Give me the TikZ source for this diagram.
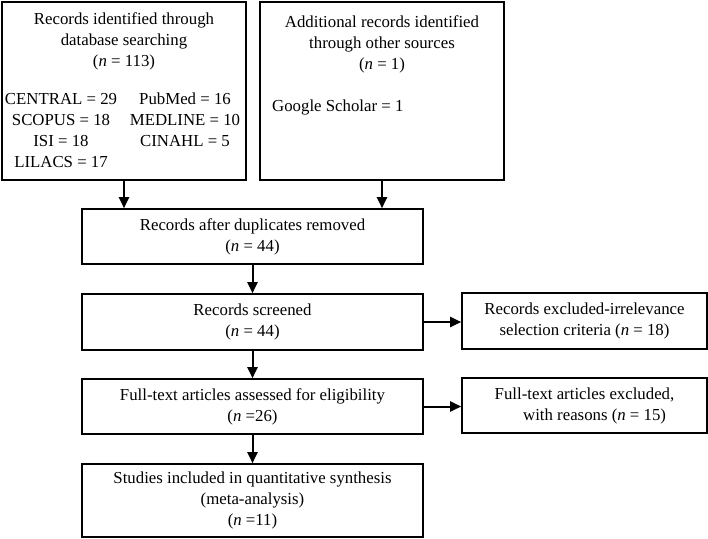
\documentclass[tikz,border=0pt]{standalone}
\usepackage{fontspec}
\setmainfont{Liberation Serif}
\usetikzlibrary{arrows.meta,positioning}

\begin{document}
\begin{tikzpicture}[
  x=1pt, y=-1pt,
  font=\fontsize{16.8}{21}\selectfont,
  box/.style={draw, line width=1.6pt, rectangle, inner sep=0pt, align=center},
  lbl/.style={inner sep=0pt, align=center},
  arr/.style={line width=2pt, -{Triangle[length=11pt, width=10pt]}}
]
\useasboundingbox (0,0) rectangle (708,538);
% ---------------- top: the two sources ------------------------------------
\node[box, minimum width=244pt, minimum height=178pt] (db) at (124,91) {};
\node[lbl] (dbtitle) at (124,41) {Records identified through\\database searching\\(\textit{n} = 113)};
\node[lbl, anchor=north] (dbleft) at (61,93) {CENTRAL = 29\\SCOPUS = 18\\ISI = 18\\LILACS = 17};
\node[lbl, anchor=north] (dbright) at (185,93) {PubMed = 16\\MEDLINE = 10\\CINAHL = 5};
\node[box, minimum width=244pt, minimum height=178pt] (other) at (382,91) {};
\node[lbl] (othertitle) at (382,44) {Additional records identified\\through other sources\\(\textit{n} = 1)};
\node[lbl, anchor=west] (gs) at (272,107) {Google Scholar = 1};
% ---------------- main column ---------------------------------------------
\node[box, minimum width=341pt, minimum height=55pt] (dup) at (252.5,236.5)
  {Records after duplicates removed\\(\textit{n} = 44)};
\node[box, minimum width=341pt, minimum height=56pt] (screen) at (252.5,322)
  {Records screened\\(\textit{n} = 44)};
\node[box, minimum width=341pt, minimum height=55pt] (full) at (252.5,406.5)
  {Full-text articles assessed for eligibility\\(\textit{n} =26)};
\node[box, minimum width=341pt, minimum height=73pt] (incl) at (252.5,500.5)
  {Studies included in quantitative synthesis\\(meta-analysis)\\(\textit{n} =11)};
% ---------------- right: exclusions ---------------------------------------
\node[box, minimum width=245pt, minimum height=56pt] (excl) at (584.5,321)
  {Records excluded-irrelevance\\selection criteria (\textit{n} = 18)};
\node[box, minimum width=245pt, minimum height=55pt] (fexcl) at (584.5,405.5)
  {Full-text articles excluded,\\\hspace*{1.2em}with reasons (\textit{n} = 15)};
% ---------------- connectors ----------------------------------------------
\draw[arr] (db.south) -- (db.south |- dup.north);
\draw[arr] (other.south) -- (other.south |- dup.north);
\draw[arr] (dup.south) -- (screen.north);
\draw[arr] (screen.east) -- (screen.east -| excl.west);
\draw[arr] (screen.south) -- (full.north);
\draw[arr] (full.east) -- (full.east -| fexcl.west);
\draw[arr] (full.south) -- (incl.north);
\end{tikzpicture}
\end{document}
